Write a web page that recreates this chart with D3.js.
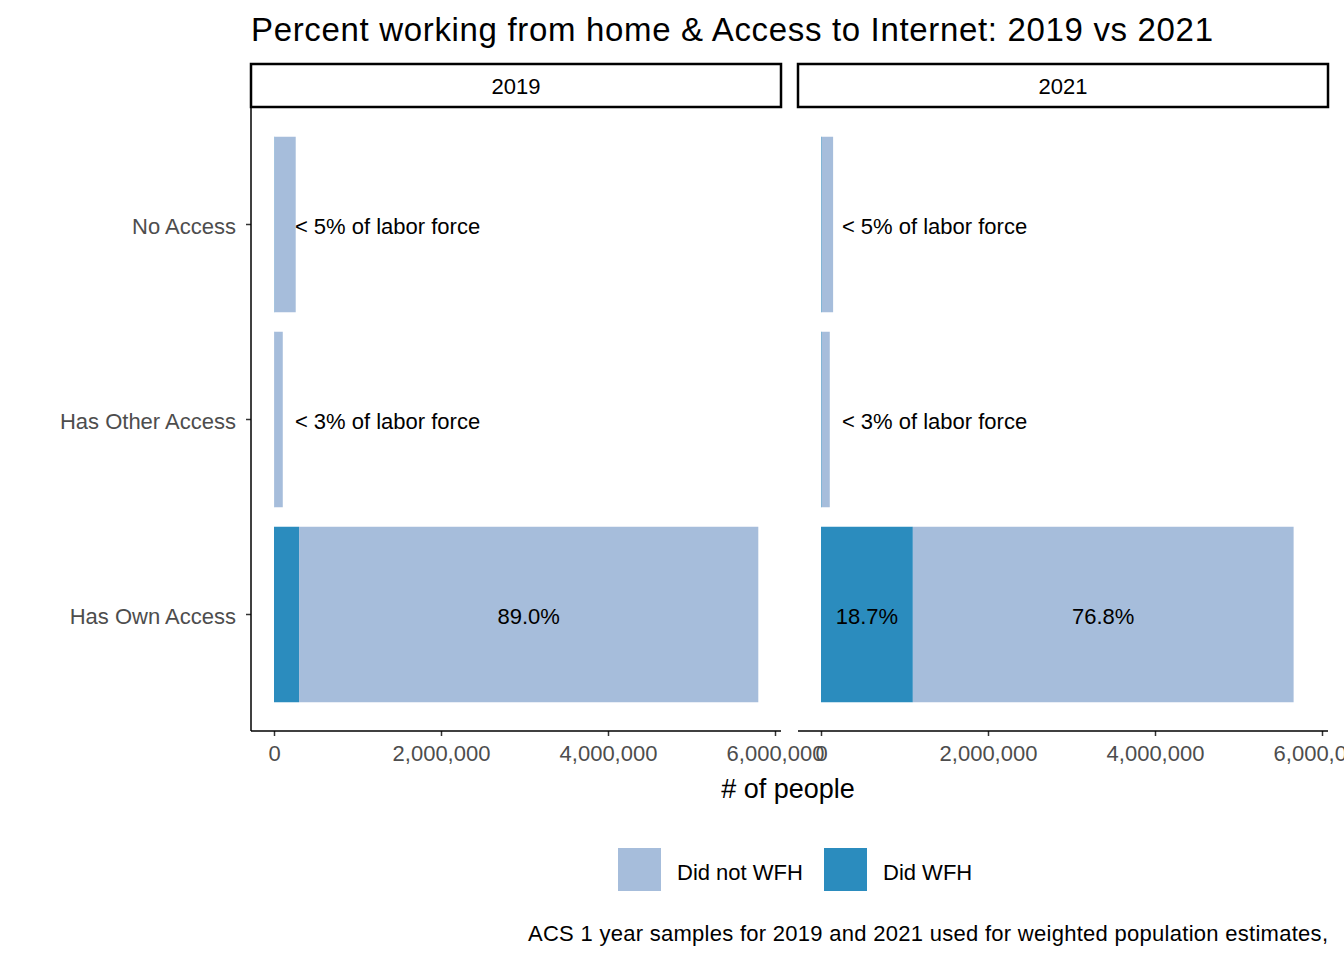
<!DOCTYPE html>
<html><head><meta charset="utf-8">
<script src="https://cdn.jsdelivr.net/npm/d3@7"></script>
<style>body{margin:0;background:#fff}text{font-family:Arial,"Liberation Sans",sans-serif}</style>
</head><body>
<svg id="c" width="1344" height="960"></svg>
<script>
var years = ["2019", "2021"]
var categories = ["No Access", "Has Other Access", "Has Own Access"]
var didWFH = { "2019": [5000, 2000, 300000], "2021": [8000, 8000, 1100000] }
var notWFH = { "2019": [255000, 103000, 5500000], "2021": [137000, 97000, 4560000] }
var barLabels = {
  "2019": [["< 5% of labor force"], ["< 3% of labor force"], [null, "89.0%"]],
  "2021": [["< 5% of labor force"], ["< 3% of labor force"], ["18.7%", "76.8%"]]
}
var smallLabelAt = 250000
var ticks = [0, 2000000, 4000000, 6000000]

var svg = d3.select("#c")
var colNot = "#a6bddb", colDid = "#2b8cbe"

svg.append("text").attr("x", 251).attr("y", 41).attr("font-size", 33).attr("textLength", 962).text("Percent working from home & Access to Internet: 2019 vs 2021")

var y = d3.scaleBand().domain(categories).range([127, 712]).paddingInner(0.1).paddingOuter(0.05)
var panels = [{ year: "2019", left: 251 }, { year: "2021", left: 798 }]

panels.forEach(function(p) {
  var x = d3.scaleLinear().domain([0, 6000000]).range([p.left + 23, p.left + 524])
  var g = svg.append("g")
  g.append("rect").attr("x", p.left).attr("y", 64).attr("width", 530).attr("height", 43)
    .attr("fill", "#fff").attr("stroke", "#000").attr("stroke-width", 2.5)
  g.append("text").attr("x", p.left + 265).attr("y", 94).attr("text-anchor", "middle").attr("font-size", 22).text(p.year)

  categories.forEach(function(c, i) {
    var d = didWFH[p.year][i], n = notWFH[p.year][i]
    g.append("rect").attr("x", x(0)).attr("y", y(c)).attr("width", x(d) - x(0)).attr("height", y.bandwidth()).attr("fill", colDid)
    g.append("rect").attr("x", x(d)).attr("y", y(c)).attr("width", x(d + n) - x(d)).attr("height", y.bandwidth()).attr("fill", colNot)
    var lab = barLabels[p.year][i], cy = y(c) + y.bandwidth() / 2 + 9
    if (lab.length === 1) {
      g.append("text").attr("x", x(smallLabelAt)).attr("y", cy).attr("font-size", 22).text(lab[0])
    } else {
      if (lab[0]) g.append("text").attr("x", (x(0) + x(d)) / 2).attr("y", cy).attr("text-anchor", "middle").attr("font-size", 22).text(lab[0])
      g.append("text").attr("x", (x(d) + x(d + n)) / 2).attr("y", cy).attr("text-anchor", "middle").attr("font-size", 22).text(lab[1])
    }
  })

  var ax = g.append("g").attr("transform", "translate(0,731)")
    .call(d3.axisBottom(x).tickValues(ticks).tickFormat(d3.format(",")).tickSize(5).tickPadding(9))
  ax.select(".domain").remove()
  ax.append("line").attr("x1", p.left).attr("x2", p.left + 530).attr("stroke", "#000").attr("stroke-width", 1.5)
  ax.selectAll(".tick line").attr("stroke", "#333").attr("stroke-width", 1.5)
  ax.selectAll(".tick text").attr("font-size", 22).attr("fill", "#4d4d4d").attr("font-family", "Arial,'Liberation Sans',sans-serif")
})

var ya = svg.append("g").attr("transform", "translate(251,0)")
  .call(d3.axisLeft(y).tickSize(5).tickPadding(10))
ya.select(".domain").remove()
ya.append("line").attr("y1", 107).attr("y2", 731).attr("stroke", "#000").attr("stroke-width", 1.5)
ya.selectAll(".tick line").attr("stroke", "#333").attr("stroke-width", 1.5)
ya.selectAll(".tick text").attr("font-size", 22).attr("fill", "#4d4d4d").attr("dy", "0.45em").attr("font-family", "Arial,'Liberation Sans',sans-serif")

svg.append("text").attr("x", 788).attr("y", 798).attr("text-anchor", "middle").attr("font-size", 27).text("# of people")

var legend = [["Did not WFH", colNot, 618], ["Did WFH", colDid, 824]]
legend.forEach(function(l) {
  svg.append("rect").attr("x", l[2]).attr("y", 848).attr("width", 43).attr("height", 43).attr("fill", l[1])
  svg.append("text").attr("x", l[2] + 59).attr("y", 880).attr("font-size", 22).text(l[0])
})
svg.append("text").attr("x", 1328).attr("y", 941).attr("text-anchor", "end").attr("font-size", 22).attr("textLength", 800)
  .text("ACS 1 year samples for 2019 and 2021 used for weighted population estimates,")
</script>
</body></html>
